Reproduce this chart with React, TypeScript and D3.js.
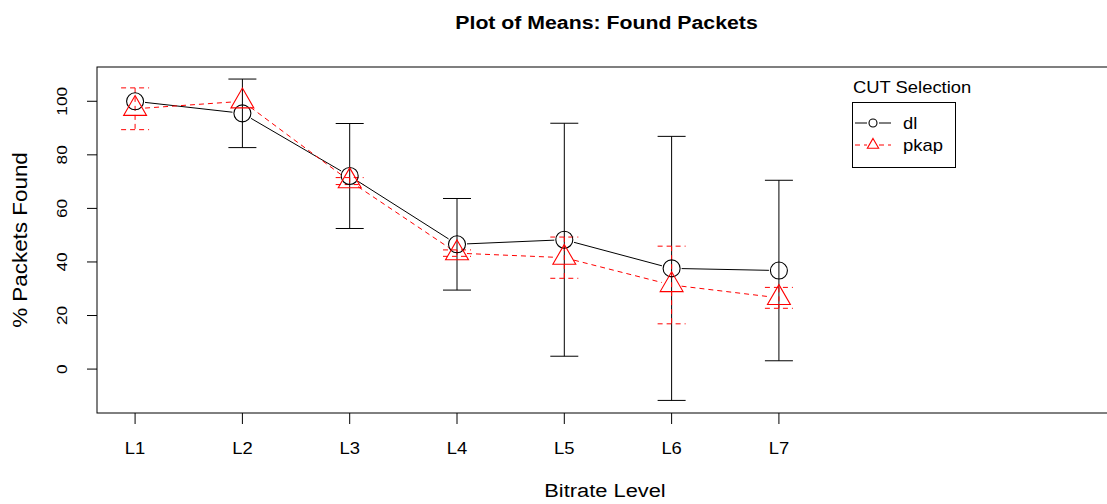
import React from "react";
import * as d3 from "d3";

// Bitrate levels and group means (percent of packets found) with error half-widths
const levels = ["L1", "L2", "L3", "L4", "L5", "L6", "L7"];
const dlMeans = [100, 95.5, 72.1, 46.6, 48.3, 37.6, 36.8];
const dlErrors = [0, 12.8, 19.6, 17.1, 43.5, 49.3, 33.7];
const pkapMeans = [97.2, 100, 70.2, 43.3, 41.6, 31.4, 26.6];
const pkapErrors = [7.8, 0, 1.3, 1.2, 7.7, 14.5, 3.9];
const yTicks = [0, 20, 40, 60, 80, 100];

const W = 1107;
const H = 504;
const FONT = "'Liberation Sans', Arial, Helvetica, sans-serif";
// glyphs are drawn slightly wide, as the device font renders them
const STRETCH = 1.15;

const plotLeft = 97;
const plotRight = 1118;
const plotTop = 67;
const plotBottom = 413;

const x = d3.scaleLinear().domain([0.645, 10.16]).range([plotLeft, plotRight]);
const y = d3.scaleLinear().domain([-16.4, 112.8]).range([plotBottom, plotTop]);

type Series = {
  name: string;
  means: number[];
  errors: number[];
  color: string;
  dash?: string;
  shape: "circle" | "triangle";
};

const series: Series[] = [
  { name: "dl", means: dlMeans, errors: dlErrors, color: "#000000", shape: "circle" },
  { name: "pkap", means: pkapMeans, errors: pkapErrors, color: "#ff0000", dash: "5,4", shape: "triangle" },
];

// R-style pch=2 triangle centred on (cx, cy) for symbol size s
function trianglePath(cx: number, cy: number, s: number) {
  const r = 1.5551203 * s;
  const xc = 1.3467737 * s;
  const yc = 0.7775602 * s;
  return `M${cx},${cy - r}L${cx + xc},${cy + yc}L${cx - xc},${cy + yc}Z`;
}

function Symbol({ shape, cx, cy, s, color }: { shape: string; cx: number; cy: number; s: number; color: string }) {
  if (shape === "circle") {
    return <circle cx={cx} cy={cy} r={s} fill="none" stroke={color} strokeWidth={1.1} />;
  }
  return <path d={trianglePath(cx, cy, s)} fill="none" stroke={color} strokeWidth={1.1} />;
}

// text anchored at (tx, ty), optionally rotated, stretched along its baseline
function Label({
  tx,
  ty,
  rotate = 0,
  size,
  anchor = "middle",
  bold = false,
  fill = "#000",
  children,
}: {
  tx: number;
  ty: number;
  rotate?: number;
  size: number;
  anchor?: string;
  bold?: boolean;
  fill?: string;
  children: React.ReactNode;
}) {
  return (
    <text
      transform={`translate(${tx},${ty}) rotate(${rotate}) scale(${STRETCH},1)`}
      textAnchor={anchor}
      fontSize={size}
      fontWeight={bold ? "bold" : "normal"}
      fill={fill}
    >
      {children}
    </text>
  );
}

// connecting lines with gaps around the plotted symbols (type = "b")
function gappedSegments(pts: [number, number][], gap: number) {
  const segs: [number, number, number, number][] = [];
  for (let i = 0; i < pts.length - 1; i++) {
    const [x0, y0] = pts[i];
    const [x1, y1] = pts[i + 1];
    const dx = x1 - x0;
    const dy = y1 - y0;
    const len = Math.hypot(dx, dy);
    if (len <= 2 * gap) continue;
    const ux = dx / len;
    const uy = dy / len;
    segs.push([x0 + ux * gap, y0 + uy * gap, x1 - ux * gap, y1 - uy * gap]);
  }
  return segs;
}

export default function App() {
  const capHalf = 14;
  const symSize = 8.5;
  return (
    <svg
      width={W}
      height={H}
      viewBox={`0 0 ${W} ${H}`}
      style={{ position: "absolute", left: 0, top: 0, background: "#ffffff" }}
      fontFamily={FONT}
    >
      <rect x={0} y={0} width={W} height={H} fill="#ffffff" />

      {/* title */}
      <Label tx={606.5} ty={29} size={18.5} bold>
        Plot of Means: Found Packets
      </Label>

      {/* error bars */}
      {series.map((s) => (
        <g key={`err-${s.name}`} stroke={s.color} strokeWidth={1} strokeDasharray={s.dash}>
          {s.means.map((m, i) => {
            const e = s.errors[i];
            if (e <= 0) return null;
            const cx = x(i + 1);
            const yt = y(m + e);
            const yb = y(m - e);
            return (
              <g key={i}>
                <line x1={cx} x2={cx} y1={yt} y2={yb} />
                <line x1={cx - capHalf} x2={cx + capHalf} y1={yt} y2={yt} />
                <line x1={cx - capHalf} x2={cx + capHalf} y1={yb} y2={yb} />
              </g>
            );
          })}
        </g>
      ))}

      {/* connecting lines and symbols */}
      {series.map((s) => {
        const pts = s.means.map((m, i) => [x(i + 1), y(m)] as [number, number]);
        return (
          <g key={`line-${s.name}`}>
            {gappedSegments(pts, 10).map((sg, i) => (
              <line
                key={i}
                x1={sg[0]}
                y1={sg[1]}
                x2={sg[2]}
                y2={sg[3]}
                stroke={s.color}
                strokeWidth={1}
                strokeDasharray={s.dash}
              />
            ))}
            {pts.map((p, i) => (
              <Symbol key={i} shape={s.shape} cx={p[0]} cy={p[1]} s={symSize} color={s.color} />
            ))}
          </g>
        );
      })}

      {/* plot frame */}
      <rect
        x={plotLeft}
        y={plotTop}
        width={plotRight - plotLeft}
        height={plotBottom - plotTop}
        fill="none"
        stroke="#000"
        strokeWidth={1}
      />

      {/* x axis */}
      <g>
        {levels.map((lv, i) => (
          <g key={lv}>
            <line x1={x(i + 1)} x2={x(i + 1)} y1={plotBottom} y2={plotBottom + 11} stroke="#000" />
            <Label tx={x(i + 1)} ty={454} size={16}>
              {lv}
            </Label>
          </g>
        ))}
      </g>
      <Label tx={605} ty={497} size={19}>
        Bitrate Level
      </Label>

      {/* y axis */}
      <g>
        {yTicks.map((t) => (
          <g key={t}>
            <line x1={plotLeft} x2={plotLeft - 10} y1={y(t)} y2={y(t)} stroke="#000" />
            <Label tx={66.5} ty={y(t)} rotate={-90} size={15}>
              {t}
            </Label>
          </g>
        ))}
      </g>
      <Label tx={27} ty={240} rotate={-90} size={19.5}>
        % Packets Found
      </Label>

      {/* legend */}
      <g>
        <Label tx={853} ty={93} size={16} anchor="start">
          CUT Selection
        </Label>
        <rect x={852.5} y={102.5} width={103} height={65} fill="none" stroke="#000" strokeWidth={1} />
        {series.map((s, i) => {
          const ly = 123 + i * 22;
          return (
            <g key={`leg-${s.name}`}>
              <line x1={855} x2={867} y1={ly} y2={ly} stroke={s.color} strokeDasharray={s.dash} />
              <line x1={879} x2={891} y1={ly} y2={ly} stroke={s.color} strokeDasharray={s.dash} />
              <Symbol shape={s.shape} cx={873} cy={ly} s={s.shape === "circle" ? 4 : 4.2} color={s.color} />
              <Label tx={903} ty={ly + 5.5} size={16} anchor="start">
                {s.name}
              </Label>
            </g>
          );
        })}
      </g>
    </svg>
  );
}
